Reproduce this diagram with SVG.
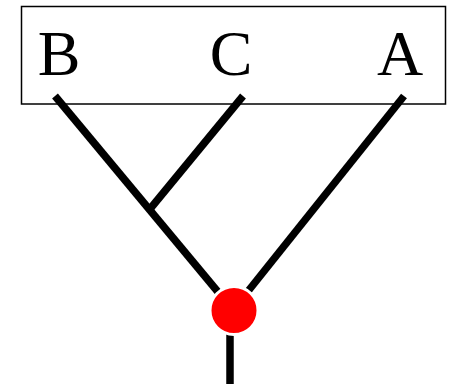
<svg xmlns="http://www.w3.org/2000/svg" width="457" height="384" viewBox="0 0 457 384">
<style>
.lbl{font-family:"Liberation Serif","Times New Roman",serif;font-size:64px;fill:#000;text-anchor:middle}
.edge{stroke:#000;stroke-width:7.5;fill:none}
</style>
<rect width="457" height="384" fill="#fff"/>
<g id="box"><rect x="21.5" y="6.5" width="424" height="97.5" fill="none" stroke="#000" stroke-width="1.5"/></g>
<g id="connectors">
<line class="edge" x1="55" y1="96" x2="233" y2="310"/>
<line class="edge" x1="243" y1="96" x2="150" y2="209"/>
<line class="edge" x1="404" y1="96" x2="233" y2="310"/>
<line class="edge" x1="230" y1="310" x2="230" y2="384"/>
</g>
<g id="B"><text class="lbl" x="59" y="75">B</text></g>
<g id="C"><text class="lbl" x="231" y="75">C</text></g>
<g id="A"><text class="lbl" x="400" y="75">A</text></g>
<g id="root"><circle cx="234" cy="310.5" r="24" fill="#f00" stroke="#fff" stroke-width="3"/></g>
</svg>
